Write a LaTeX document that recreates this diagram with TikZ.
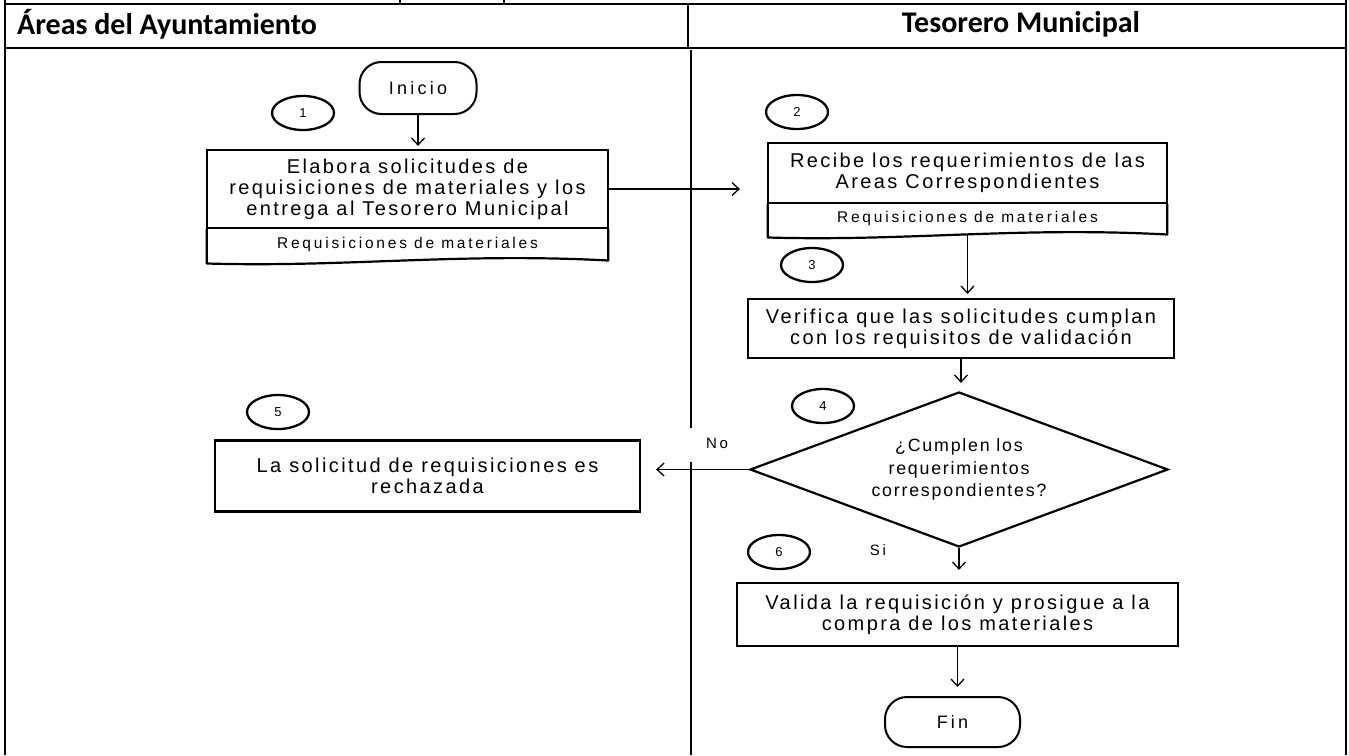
\documentclass[tikz,border=0pt]{standalone}
\usepackage{fontspec}
\setmainfont{Liberation Sans}
\newfontfamily\headfont{Carlito}
\newfontfamily\flowfont[LetterSpace=18]{Liberation Sans}
\newfontfamily\boxfont[LetterSpace=12]{Liberation Sans}
\newfontfamily\qfont[LetterSpace=10]{Liberation Sans}
\usetikzlibrary{arrows.meta,shapes.geometric,calc}

\begin{document}
\begin{tikzpicture}[x=1pt,y=-1pt,
  frameline/.style={line width=2.4pt},
  laneline/.style={line width=1.4pt},
  proc/.style={draw, line width=2.2pt, rectangle, inner sep=0pt, align=center,
    font=\boxfont\fontsize{20}{21}\selectfont},
  docpart/.style={rectangle, inner sep=0pt, align=center,
    font=\flowfont\fontsize{15.5}{17}\selectfont},
  docedge/.style={draw, line width=2.2pt, line join=round},
  term/.style={draw, line width=2pt, rounded corners=22pt, inner sep=0pt,
    minimum height=52pt, font=\flowfont\fontsize{18}{20}\selectfont},
  stepno/.style={draw, ellipse, line width=2.3pt, minimum width=62pt, minimum height=34pt,
    inner sep=0pt, font=\flowfont\fontsize{13}{14}\selectfont},
  decision/.style={draw, diamond, line width=2.2pt, inner sep=0pt, aspect=2.7,
    align=center, font=\qfont\fontsize{17.8}{22.5}\selectfont},
  arr/.style={line width=1.3pt, -{Straight Barb[length=7pt,width=13pt,line width=1.3pt]}},
  lbl/.style={inner sep=0pt, font=\flowfont\fontsize{15}{16}\selectfont},
  headtext/.style={inner sep=0pt, font=\headfont\bfseries\fontsize{30}{34}\selectfont}
]
\useasboundingbox (0,0) rectangle (1349,755);

% table frame and lane headings
\draw[frameline] (5,4) -- (1346,4);
\draw[frameline] (5,48) -- (1346,48);
\draw[frameline] (5,0) -- (5,755);
\draw[frameline] (1346,0) -- (1346,755);
\draw[line width=1.6pt] (400,0) -- (400,4);
\draw[line width=1.6pt] (504,0) -- (504,4);
\draw[line width=1.6pt] (688,4) -- (688,48);
\node[headtext, anchor=west] (h1) at (17,24) {Áreas del Ayuntamiento};
\node[headtext] (h2) at (1021,24) {Tesorero Municipal};

% lane separator, broken around the "No" label
\coordinate (sepA) at (691,50);
\coordinate (sepB) at (691,428);
\coordinate (sepC) at (691,462);
\coordinate (sepD) at (691,755);
\draw[laneline] (sepA) -- (sepB);
\draw[laneline] (sepC) -- (sepD);

% step numbers
\node[stepno] (c1) at (303,113) {1};
\node[stepno] (c2) at (797,112) {2};
\node[stepno] (c3) at (812,265) {3};
\node[stepno] (c4) at (823,406) {4};
\node[stepno] (c5) at (278,412) {5};
\node[stepno] (c6) at (779,552) {6};

% flow nodes
\node[term, minimum width=117pt] (start) at (418,88) {Inicio};

\node[proc, minimum width=401pt, minimum height=78pt] (p1) at (407.5,189)
  {Elabora solicitudes de\\requisiciones de materiales y los\\entrega al Tesorero Municipal};
\node[docpart, minimum width=401pt, minimum height=30pt, anchor=north] (p1d) at (p1.south)
  {Requisiciones de materiales};
\draw[docedge] (p1d.north west) -- ([yshift=-4pt]p1d.south west)
  .. controls ($(p1d.south west)+(140,8)$) and ($(p1d.south east)+(-150,-7)$)
  .. ([yshift=-1pt]p1d.south east) -- (p1d.north east);

\node[proc, minimum width=399pt, minimum height=60pt] (p2) at (967.5,173)
  {Recibe los requerimientos de las\\Areas Correspondientes};
\node[docpart, minimum width=399pt, minimum height=29pt, anchor=north] (p2d) at (p2.south)
  {Requisiciones de materiales};
\draw[docedge] (p2d.north west) -- ([yshift=-4pt]p2d.south west)
  .. controls ($(p2d.south west)+(140,8)$) and ($(p2d.south east)+(-150,-7)$)
  .. ([yshift=-1pt]p2d.south east) -- (p2d.north east);

\node[proc, minimum width=426pt, minimum height=59pt] (p3) at (961,328.5)
  {Verifica que las solicitudes cumplan\\con los requisitos de validación};

\node[decision, minimum width=418pt, minimum height=155pt] (d4) at (959,469.5)
  {¿Cumplen los\\requerimientos\\correspondientes?};

\node[proc, minimum width=425pt, minimum height=71pt] (p5) at (427.5,476)
  {La solicitud de requisiciones es\\rechazada};

\node[proc, minimum width=441pt, minimum height=63pt] (p6) at (957.5,614.5)
  {Valida la requisición y prosigue a la\\compra de los materiales};

\node[term, minimum width=135pt, minimum height=50pt] (end) at (952.5,722) {Fin};

% branch labels
\node[lbl] (no) at (717,443) {No};
\node[lbl] (si) at (878,550) {Si};

% connectors
\draw[arr, shorten >=3pt] (start.south) -- (start.south |- p1.north);
\draw[arr, shorten >=27pt] (p1.east) -- (p1.east -| p2.west);
\draw[arr, shorten >=4pt] (p2d.south) -- (p2d.south |- p3.north);
\draw[arr, shorten >=8pt] (p3.south) -- (p3.south |- d4.north);
\draw[arr, shorten >=15pt] (d4.west) -- (d4.west -| p5.east);
\draw[arr, shorten >=12pt] (d4.south) -- (d4.south |- p6.north);
\draw[arr, shorten >=9pt] (p6.south) -- (p6.south |- end.north);
\end{tikzpicture}
\end{document}
